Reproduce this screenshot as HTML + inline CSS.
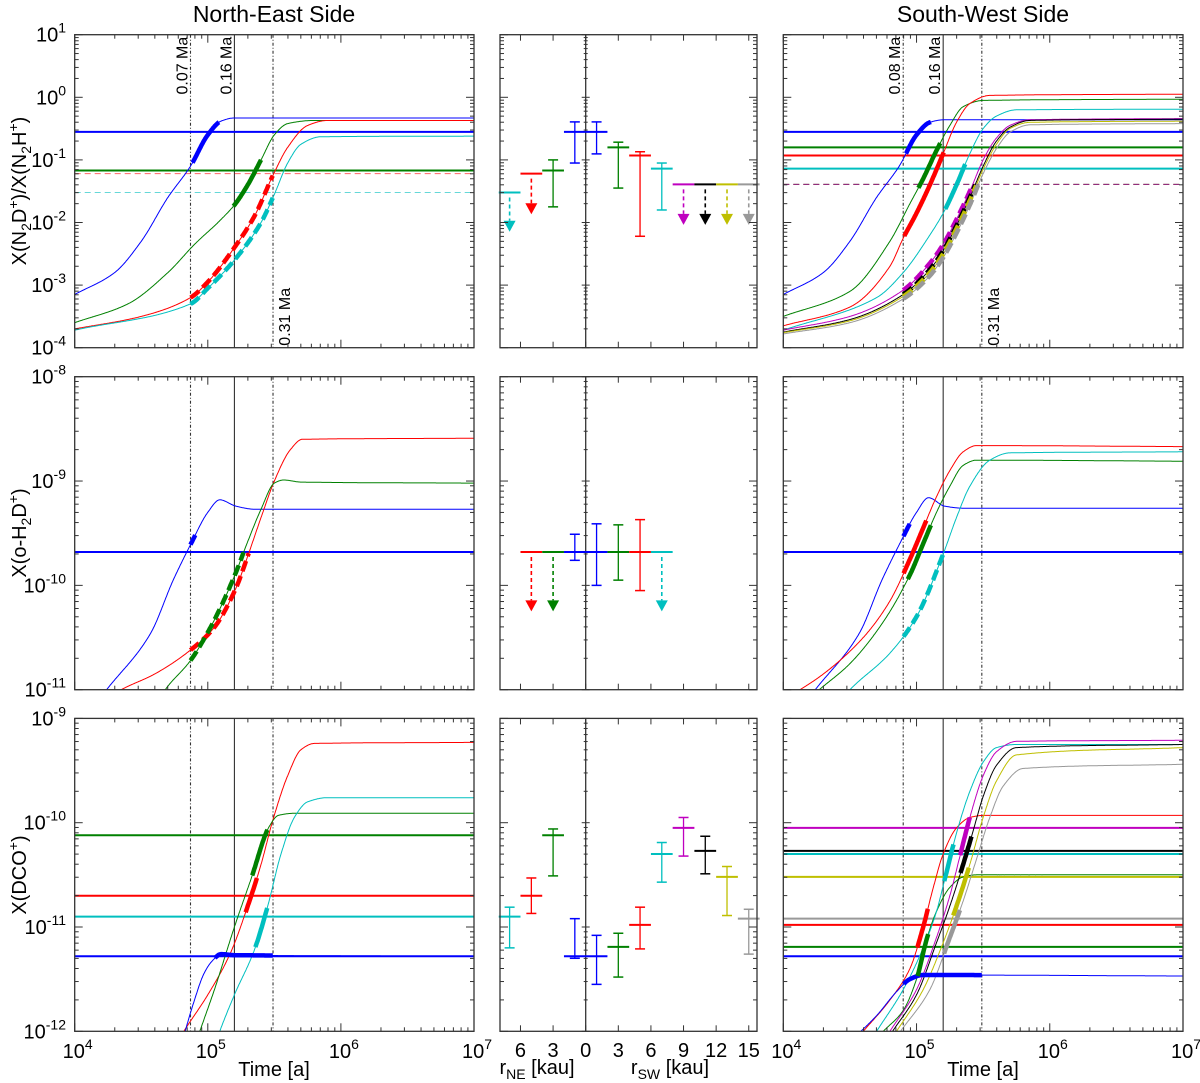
<!DOCTYPE html>
<html><head><meta charset="utf-8"><title>Chemical clock models</title>
<style>
html,body{margin:0;padding:0;background:#fff;}
svg{display:block;font-family:"Liberation Sans",sans-serif;}
</style></head>
<body>
<svg id="fig" width="1200" height="1083" viewBox="0 0 1200 1083"></svg>
<script>
// ---------- DATA (log10 values; time in log10 years; r in kau) ----------
const timeTicks=[4,5,6,7];
const topDecades=[1,0,-1,-2,-3,-4];
const midDecades=[-8,-9,-10,-11];
const botDecades=[-9,-10,-11,-12];
const kauTicksNE=[6,3,0];
const kauTicksSW=[3,6,9,12,15];
const ageNE=[4.87,5.2,5.49];
const ageSW=[4.9,5.2,5.49];
const ageLabelsNE=['0.07 Ma','0.16 Ma','0.31 Ma'];
const ageLabelsSW=['0.08 Ma','0.16 Ma','0.31 Ma'];

// observation sets
const kauNE=[7,5,3,1];
const keysNE=['c','r','g','b'];
const topNEVal=[-1.52,-1.22,-1.17,-0.553];
const topNEHi=[-1.52,-1.22,-1.0,-0.393];
const topNELo=[-2.1,-1.82,-1.75,-1.05];
const topNEUL=[1,1,0,0];

const kauMidNE=[5,3,1];
const keysMidNE=['r','g','b'];
const midNEVal=[-9.68,-9.68,-9.68];
const midNEHi=[-9.68,-9.68,-9.51];
const midNELo=[-10.22,-10.22,-9.76];
const midNEUL=[1,1,0];

const botNEVal=[-10.9,-10.70,-10.12,-11.28];
const botNEHi=[-10.81,-10.53,-10.06,-10.92];
const botNELo=[-11.20,-10.87,-10.51,-11.30];
const botNEUL=[0,0,0,0];

const kauSW=[1,3,5,7,9,11,13,15];
const keysSW=['b','g','r','c','m','k','y','gr'];
const topSWVal=[-0.553,-0.80,-0.93,-1.14,-1.39,-1.39,-1.39,-1.39];
const topSWHi=[-0.393,-0.717,-0.87,-1.05,-1.39,-1.39,-1.39,-1.39];
const topSWLo=[-0.904,-1.45,-2.22,-1.80,-1.99,-1.99,-1.99,-1.99];
const topSWUL=[0,0,0,0,1,1,1,1];

const kauMidSW=[1,3,5,7];
const keysMidSW=['b','g','r','c'];
const midSWVal=[-9.68,-9.68,-9.68,-9.68];
const midSWHi=[-9.41,-9.42,-9.37,-9.68];
const midSWLo=[-10.0,-9.95,-10.05,-10.22];
const midSWUL=[0,0,0,1];

const botSWVal=[-11.28,-11.19,-10.98,-10.30,-10.05,-10.27,-10.52,-10.92];
const botSWHi=[-11.08,-11.06,-10.81,-10.19,-9.95,-10.13,-10.42,-10.83];
const botSWLo=[-11.55,-11.48,-11.21,-10.57,-10.32,-10.49,-10.89,-11.26];
const botSWUL=[0,0,0,0,0,0,0,0];

// model curves [log t, log X]
const curvesTopNE={
 b:[[4,-3.15],[4.3,-2.8],[4.5,-2.3],[4.7,-1.6],[4.87,-1.1],[5.0,-0.6],[5.1,-0.38],[5.2,-0.33],[7,-0.33]],
 g:[[4,-3.6],[4.4,-3.3],[4.7,-2.8],[4.9,-2.35],[5.1,-1.95],[5.2,-1.72],[5.3,-1.4],[5.4,-1.0],[5.5,-0.6],[5.6,-0.42],[5.8,-0.37],[7,-0.37]],
 r:[[4,-3.7],[4.5,-3.5],[4.87,-3.2],[5.0,-2.95],[5.2,-2.4],[5.35,-1.9],[5.5,-1.2],[5.6,-0.8],[5.75,-0.45],[5.9,-0.37],[7,-0.37]],
 c:[[4,-3.72],[4.87,-3.3],[5.0,-3.05],[5.2,-2.6],[5.4,-2.0],[5.5,-1.55],[5.6,-1.05],[5.7,-0.75],[5.85,-0.63],[7,-0.62]]
};
const curvesMidNE={
 b:[[4.0,-11.4],[4.24,-11],[4.57,-10.46],[4.74,-9.95],[4.87,-9.61],[5.0,-9.3],[5.09,-9.18],[5.21,-9.24],[5.35,-9.27],[7,-9.27]],
 r:[[4.0,-11.3],[4.35,-11],[4.6,-10.85],[4.87,-10.62],[5.05,-10.4],[5.21,-10.03],[5.3,-9.72],[5.4,-9.35],[5.5,-9.0],[5.62,-8.7],[5.71,-8.6],[7,-8.59]],
 g:[[4.5,-11.4],[4.68,-11],[4.87,-10.72],[5.0,-10.45],[5.1,-10.2],[5.21,-9.88],[5.3,-9.58],[5.4,-9.27],[5.5,-9.02],[5.57,-8.99],[5.7,-9.01],[7,-9.02]]
};
const curvesBotNE={
 r:[[4.75,-12.15],[4.82,-12],[5.0,-11.65],[5.17,-11.25],[5.3,-10.8],[5.4,-10.4],[5.49,-9.97],[5.6,-9.55],[5.7,-9.3],[5.8,-9.24],[7,-9.23]],
 g:[[4.9,-12.15],[4.94,-12],[5.05,-11.6],[5.2,-11.0],[5.33,-10.52],[5.46,-10.04],[5.53,-9.93],[5.65,-9.91],[7,-9.91]],
 c:[[5.05,-12.15],[5.09,-12],[5.2,-11.65],[5.35,-11.22],[5.45,-10.8],[5.55,-10.3],[5.65,-9.95],[5.75,-9.8],[5.9,-9.76],[7,-9.76]],
 b:[[4.75,-12.4],[4.83,-12],[4.9,-11.7],[4.97,-11.45],[5.03,-11.33],[5.1,-11.26],[5.2,-11.27],[7,-11.28]]
};
const curvesTopSW={
 b:[[4,-3.15],[4.3,-2.8],[4.5,-2.3],[4.7,-1.6],[4.87,-1.1],[5.0,-0.6],[5.1,-0.4],[5.2,-0.36],[7,-0.36]],
 g:[[4,-3.5],[4.5,-3.1],[4.8,-2.3],[4.95,-1.7],[5.05,-1.3],[5.15,-0.85],[5.25,-0.45],[5.35,-0.15],[5.5,-0.05],[7,-0.03]],
 r:[[4,-3.65],[4.5,-3.35],[4.8,-2.7],[4.9,-2.25],[5.0,-1.85],[5.1,-1.4],[5.2,-0.9],[5.3,-0.4],[5.4,-0.1],[5.55,0.03],[7,0.05]],
 c:[[4,-3.72],[4.7,-3.2],[4.9,-2.8],[5.1,-2.2],[5.2,-1.85],[5.3,-1.4],[5.4,-0.9],[5.5,-0.5],[5.6,-0.3],[5.75,-0.2],[7,-0.19]],
 m:[[4,-3.72],[4.5,-3.5],[4.9,-3.08],[5.1,-2.65],[5.2,-2.35],[5.3,-1.95],[5.4,-1.5],[5.5,-1.0],[5.6,-0.65],[5.7,-0.45],[5.85,-0.36],[7,-0.34]],
 k:[[4,-3.75],[4.5,-3.55],[4.9,-3.15],[5.1,-2.75],[5.2,-2.45],[5.3,-2.05],[5.4,-1.6],[5.5,-1.1],[5.6,-0.7],[5.7,-0.48],[5.85,-0.37],[7,-0.35]],
 y:[[4,-3.76],[4.5,-3.57],[4.9,-3.18],[5.1,-2.8],[5.2,-2.5],[5.3,-2.1],[5.4,-1.65],[5.5,-1.15],[5.6,-0.75],[5.7,-0.5],[5.85,-0.4],[7,-0.38]],
 gr:[[4,-3.78],[4.5,-3.6],[4.9,-3.22],[5.1,-2.85],[5.2,-2.56],[5.3,-2.17],[5.4,-1.72],[5.5,-1.22],[5.6,-0.82],[5.7,-0.56],[5.85,-0.44],[7,-0.42]]
};
const curvesMidSW={
 b:[[4.0,-11.4],[4.24,-11],[4.57,-10.46],[4.74,-9.95],[4.87,-9.61],[5.0,-9.3],[5.09,-9.16],[5.21,-9.24],[5.35,-9.26],[7,-9.26]],
 r:[[4.0,-11.1],[4.3,-10.85],[4.6,-10.5],[4.8,-10.15],[4.95,-9.75],[5.05,-9.45],[5.15,-9.15],[5.25,-8.9],[5.35,-8.72],[5.45,-8.66],[7,-8.67]],
 g:[[4.0,-11.3],[4.27,-11],[4.5,-10.75],[4.75,-10.35],[4.95,-9.9],[5.05,-9.6],[5.15,-9.3],[5.25,-9.05],[5.35,-8.85],[5.45,-8.8],[7,-8.81]],
 c:[[4.3,-11.3],[4.5,-11],[4.8,-10.65],[5.0,-10.3],[5.2,-9.7],[5.3,-9.35],[5.4,-9.05],[5.55,-8.8],[5.7,-8.73],[7,-8.72]]
};
const curvesBotSW={
 r:[[4.6,-12],[4.8,-11.7],[4.95,-11.4],[5.05,-11.0],[5.12,-10.65],[5.2,-10.3],[5.3,-10.05],[5.4,-9.95],[5.5,-9.93],[7,-9.93]],
 g:[[4.75,-12],[4.9,-11.8],[5.0,-11.5],[5.08,-11.1],[5.15,-10.85],[5.25,-10.62],[5.35,-10.52],[5.45,-10.5],[7,-10.5]],
 b:[[4.5,-12.1],[4.7,-11.85],[4.85,-11.62],[4.95,-11.5],[5.05,-11.46],[7,-11.47]],
 c:[[4.7,-12],[4.9,-11.6],[5.05,-11.2],[5.15,-10.85],[5.22,-10.5],[5.3,-10.1],[5.4,-9.7],[5.5,-9.42],[5.6,-9.28],[5.75,-9.25],[7,-9.25]],
 m:[[4.8,-12],[5.0,-11.6],[5.15,-11.1],[5.25,-10.7],[5.32,-10.35],[5.4,-9.95],[5.5,-9.55],[5.6,-9.32],[5.75,-9.22],[7,-9.21]],
 k:[[4.82,-12],[5.0,-11.65],[5.15,-11.15],[5.25,-10.8],[5.35,-10.4],[5.42,-10.1],[5.5,-9.75],[5.6,-9.45],[5.75,-9.28],[7,-9.25]],
 y:[[4.85,-12],[5.05,-11.6],[5.2,-11.15],[5.3,-10.8],[5.4,-10.4],[5.5,-9.95],[5.6,-9.6],[5.75,-9.35],[7,-9.28]],
 gr:[[4.88,-12],[5.1,-11.6],[5.25,-11.1],[5.35,-10.75],[5.45,-10.35],[5.55,-9.95],[5.65,-9.65],[5.8,-9.48],[7,-9.44]]
};

// ---------- RENDERING ----------
const COL={b:'#0000ff',g:'#008000',r:'#ff0000',c:'#00bfbf',m:'#bf00bf',k:'#000000',y:'#bfbf00',gr:'#999999'};
const CNAME={b:'blue',g:'green',r:'red',c:'cyan',m:'magenta',k:'black',y:'yellow',gr:'grey'};
const NS='http://www.w3.org/2000/svg';
const svg=document.getElementById('fig');
function mk(tag,attrs,parent){const e=document.createElementNS(NS,tag);for(const k in attrs)e.setAttribute(k,attrs[k]);(parent||svg).appendChild(e);return e;}

const L={x0:74.7,x1:474},M={x0:500,x1:757,c:585.7,s:10.87},R={x0:783.3,x1:1183};
const ROWS={top:{y0:34.7,y1:347.7,hi:1,lo:-4},mid:{y0:376.7,y1:689.7,hi:-8,lo:-11},bot:{y0:718.4,y1:1031.3,hi:-9,lo:-12}};
function sx(col,t){return col.x0+(t-4)/3*(col.x1-col.x0);}
function sy(row,v){return row.y0+(row.hi-v)/(row.hi-row.lo)*(row.y1-row.y0);}
function kx(side,k){return M.c+side*k*M.s;}

// monotone cubic (PCHIP) interpolation, sampled densely in t
function dense(pts){
  const n=pts.length,xs=pts.map(p=>p[0]),ys=pts.map(p=>p[1]);
  const h=[],d=[];
  for(let i=0;i<n-1;i++){h.push(xs[i+1]-xs[i]);d.push((ys[i+1]-ys[i])/h[i]);}
  const m=new Array(n).fill(0);
  m[0]=d[0];m[n-1]=d[n-2];
  for(let i=1;i<n-1;i++){
    if(d[i-1]*d[i]<=0)m[i]=0;
    else{const w1=2*h[i]+h[i-1],w2=h[i]+2*h[i-1];m[i]=(w1+w2)/(w1/d[i-1]+w2/d[i]);}
  }
  const out=[];
  for(let i=0;i<n-1;i++){
    const steps=Math.max(2,Math.ceil(h[i]/0.004));
    for(let j=0;j<steps;j++){
      const s=j/steps,s2=s*s,s3=s2*s;
      const v=(2*s3-3*s2+1)*ys[i]+(s3-2*s2+s)*h[i]*m[i]+(-2*s3+3*s2)*ys[i+1]+(s3-s2)*h[i]*m[i+1];
      out.push([xs[i]+s*h[i],v]);
    }
  }
  out.push(pts[n-1]);
  return out;
}
function ptsStr(col,row,d){let s='';let last=null;d.forEach((p,i)=>{const x=sx(col,p[0]),y=sy(row,p[1]);if(last&&Math.abs(x-last[0])<0.5&&Math.abs(y-last[1])<0.5&&i<d.length-1)return;last=[x,y];s+=x.toFixed(1)+','+y.toFixed(1)+' ';});return s;}

let clipN=0;
function sidePanel(col,row,name,curves,keys,vals,his,los,uls,ages,ageLabels,showAges){
  const g=mk('g',{});
  
  
  const id='clip'+(clipN++);
  const cp=mk('clipPath',{id:id},g);
  mk('rect',{x:col.x0,y:row.y0,width:col.x1-col.x0,height:row.y1-row.y0},cp);
  const inner=mk('g',{'clip-path':'url(#'+id+')'},g);
  ages.forEach((a,i)=>{
    const x=sx(col,a);
    const ln=mk('line',{x1:x,x2:x,y1:row.y0,y2:row.y1,stroke:'#333','stroke-width':1.1,'stroke-dasharray':i===1?'none':'3,2,1,2'},inner);
    
    
  });
  // observed horizontal lines: limits (reverse), then detections, blue last
  const idx=[...keys.keys()];
  const order=idx.filter(i=>uls[i]).reverse()
    .concat(idx.filter(i=>!uls[i]&&keys[i]!=='b'))
    .concat(idx.filter(i=>!uls[i]&&keys[i]==='b'));
  order.forEach(i=>{
    const y=sy(row,vals[i]);
    const ln=mk('line',{x1:col.x0,x2:col.x1,y1:y,y2:y,stroke:COL[keys[i]],'stroke-width':uls[i]?1:2,'stroke-dasharray':uls[i]?'6,4':'none',opacity:uls[i]?0.6:1},inner);
    
    
  });
  for(const k in curves){
    const d=dense(curves[k]);
    const pl=mk('polyline',{points:ptsStr(col,row,d),fill:'none',stroke:COL[k],'stroke-width':1},inner);
    
    
  }
  keys.forEach((k,i)=>{
    if(!curves[k])return;
    const d=dense(curves[k]);
    const lo=uls[i]?-99:los[i],hi=uls[i]?vals[i]:his[i];
    let seg=[];const segs=[];
    d.forEach(p=>{
      if(p[0]>=ages[0]&&p[0]<=ages[2]&&p[1]>=lo&&p[1]<=hi){seg.push(p);}
      else{if(seg.length>1)segs.push(seg);seg=[];}
    });
    if(seg.length>1)segs.push(seg);
    segs.forEach(s=>{
      const pl=mk('polyline',{points:ptsStr(col,row,s),fill:'none',stroke:COL[k],'stroke-width':4.5,'stroke-dasharray':uls[i]?'11,5':'none'},inner);
      
      
    });
  });
  if(showAges){
    ages.forEach((a,i)=>{
      const x=sx(col,a);
      const below=(i===2);
      const bx=below?x+17:x-3;
      const by=below?row.y1-2:row.y0+2;
      const t=mk('text',{x:bx,y:by,transform:'rotate(-90 '+bx+' '+by+')','font-size':16,'text-anchor':below?'start':'end',fill:'#000'},g);
      t.textContent=ageLabels[i];
      
      
    });
  }
  frame(g,col.x0,col.x1,row.y0,row.y1);
  for(let d=row.lo;d<=row.hi;d++){
    tickY(g,col,row,d,8);
    if(d<row.hi)for(let m=2;m<=9;m++)tickY(g,col,row,d+Math.log10(m),4);
  }
  for(let d=4;d<=7;d++){
    tickX(g,sx(col,d),row,8);
    if(d<7)for(let m=2;m<=9;m++)tickX(g,sx(col,d+Math.log10(m)),row,4);
  }
}
function frame(g,x0,x1,y0,y1){
  const r=mk('rect',{x:x0,y:y0,width:x1-x0,height:y1-y0,fill:'none',stroke:'#333','stroke-width':1.3},g);
  
  
}
function tickY(g,col,row,v,len){
  const y=sy(row,v);
  mk('line',{x1:col.x0,x2:col.x0+len,y1:y,y2:y,stroke:'#333','stroke-width':1},g);
  mk('line',{x1:col.x1,x2:col.x1-len,y1:y,y2:y,stroke:'#333','stroke-width':1},g);
}
function tickX(g,x,row,len){
  mk('line',{x1:x,x2:x,y1:row.y1,y2:row.y1-len,stroke:'#333','stroke-width':1},g);
  mk('line',{x1:x,x2:x,y1:row.y0,y2:row.y0+len,stroke:'#333','stroke-width':1},g);
}

function midPanel(row,name,sets){
  const g=mk('g',{});
  
  
  const cl=mk('line',{x1:M.c,x2:M.c,y1:row.y0,y2:row.y1,stroke:'#333','stroke-width':1.3},g);
  
  
  sets.forEach(s=>{
    s.kau.forEach((k,i)=>{
      const x=kx(s.side,k),c=COL[s.keys[i]],y=sy(row,s.val[i]);
      const eg=mk('g',{},g);
      if(s.ul[i]){
        
        
        mk('line',{x1:x-M.s,x2:x+M.s,y1:y,y2:y,stroke:c,'stroke-width':2},eg);
        const ya=sy(row,s.lo[i]);
        mk('line',{x1:x,x2:x,y1:y+5,y2:ya-8,stroke:c,'stroke-width':1.6,'stroke-dasharray':'4,3'},eg);
        mk('polygon',{points:(x-6)+','+(ya-8)+' '+(x+6)+','+(ya-8)+' '+x+','+(ya+3),fill:c},eg);
      }else{
        
        
        const yt=sy(row,s.hi[i]),yb=sy(row,s.lo[i]);
        mk('line',{x1:x-M.s,x2:x+M.s,y1:y,y2:y,stroke:c,'stroke-width':2},eg);
        mk('line',{x1:x,x2:x,y1:yt,y2:yb,stroke:c,'stroke-width':1.3},eg);
        mk('line',{x1:x-5,x2:x+5,y1:yt,y2:yt,stroke:c,'stroke-width':1.5},eg);
        mk('line',{x1:x-5,x2:x+5,y1:yb,y2:yb,stroke:c,'stroke-width':1.5},eg);
      }
    });
  });
  frame(g,M.x0,M.x1,row.y0,row.y1);
  for(let d=row.lo;d<=row.hi;d++){
    const mm=[[d,8]];
    if(d<row.hi)for(let m=2;m<=9;m++)mm.push([d+Math.log10(m),4]);
    mm.forEach(([v,len])=>{
      const y=sy(row,v);
      mk('line',{x1:M.x0,x2:M.x0+len,y1:y,y2:y,stroke:'#333','stroke-width':1},g);
      mk('line',{x1:M.x1,x2:M.x1-len,y1:y,y2:y,stroke:'#333','stroke-width':1},g);
      mk('line',{x1:M.c-len/2,x2:M.c+len/2,y1:y,y2:y,stroke:'#333','stroke-width':1},g);
    });
  }
  kauTicksNE.forEach(k=>tickX(g,kx(-1,k),row,6));
  kauTicksSW.forEach(k=>tickX(g,kx(1,k),row,6));
}

function decLabel(x,y,d,anchor,name){
  const t=mk('text',{x:x,y:y,'font-size':20,'text-anchor':anchor,fill:'#000'});
  
  
  const a=mk('tspan',{},t);a.textContent='10';
  const b=mk('tspan',{dy:-9,'font-size':14},t);b.textContent=String(d);
}

sidePanel(L,ROWS.top,'ne-n2d-ratio-panel',curvesTopNE,keysNE,topNEVal,topNEHi,topNELo,topNEUL,ageNE,ageLabelsNE,true);
sidePanel(L,ROWS.mid,'ne-oh2d-panel',curvesMidNE,keysMidNE,midNEVal,midNEHi,midNELo,midNEUL,ageNE,ageLabelsNE,false);
sidePanel(L,ROWS.bot,'ne-dco-panel',curvesBotNE,keysNE,botNEVal,botNEHi,botNELo,botNEUL,ageNE,ageLabelsNE,false);
sidePanel(R,ROWS.top,'sw-n2d-ratio-panel',curvesTopSW,keysSW,topSWVal,topSWHi,topSWLo,topSWUL,ageSW,ageLabelsSW,true);
sidePanel(R,ROWS.mid,'sw-oh2d-panel',curvesMidSW,keysMidSW,midSWVal,midSWHi,midSWLo,midSWUL,ageSW,ageLabelsSW,false);
sidePanel(R,ROWS.bot,'sw-dco-panel',curvesBotSW,keysSW,botSWVal,botSWHi,botSWLo,botSWUL,ageSW,ageLabelsSW,false);

midPanel(ROWS.top,'observed-n2d-ratio-panel',[
 {side:-1,kau:kauNE,keys:keysNE,val:topNEVal,hi:topNEHi,lo:topNELo,ul:topNEUL},
 {side:1,kau:kauSW,keys:keysSW,val:topSWVal,hi:topSWHi,lo:topSWLo,ul:topSWUL}]);
midPanel(ROWS.mid,'observed-oh2d-panel',[
 {side:-1,kau:kauMidNE,keys:keysMidNE,val:midNEVal,hi:midNEHi,lo:midNELo,ul:midNEUL},
 {side:1,kau:kauMidSW,keys:keysMidSW,val:midSWVal,hi:midSWHi,lo:midSWLo,ul:midSWUL}]);
midPanel(ROWS.bot,'observed-dco-panel',[
 {side:-1,kau:kauNE,keys:keysNE,val:botNEVal,hi:botNEHi,lo:botNELo,ul:botNEUL},
 {side:1,kau:kauSW,keys:keysSW,val:botSWVal,hi:botSWHi,lo:botSWLo,ul:botSWUL}]);

topDecades.forEach(d=>decLabel(66,sy(ROWS.top,d)+7,d,'end','y-tick-label'));
midDecades.forEach(d=>decLabel(66,sy(ROWS.mid,d)+7,d,'end','y-tick-label'));
botDecades.forEach(d=>decLabel(66,sy(ROWS.bot,d)+7,d,'end','y-tick-label'));
timeTicks.forEach(t=>{decLabel(sx(L,t)+3,1058,t,'middle','x-tick-label');decLabel(sx(R,t)+3,1058,t,'middle','x-tick-label');});
kauTicksNE.forEach(k=>{const t=mk('text',{x:kx(-1,k),y:1057,'font-size':20,'text-anchor':'middle'});t.textContent=k;
 });
kauTicksSW.forEach(k=>{const t=mk('text',{x:kx(1,k),y:1057,'font-size':20,'text-anchor':'middle'});t.textContent=k;
 });

// titles and axis labels
function T(x,y,size,anchor,parts,name,rot){
  const t=mk('text',{x:x,y:y,'font-size':size,'text-anchor':anchor});
  if(rot)t.setAttribute('transform','rotate(-90 '+x+' '+y+')');
  
  
  let shift=0;
  parts.forEach(p=>{
    const target=p[1]==='sub'?5:(p[1]==='sup'?-8:0);
    const s=mk('tspan',{dy:target-shift},t);
    if(p[1])s.setAttribute('font-size',Math.round(size*0.7));
    shift=target;
    s.textContent=p[0];
  });
}
T(274,22,23,'middle',[['North-East Side']],'north-east-title');
T(983,22,23,'middle',[['South-West Side']],'south-west-title');
T(274,1076,20,'middle',[['Time [a]']],'x-axis-title-ne');
T(983,1076,20,'middle',[['Time [a]']],'x-axis-title-sw');
T(537,1074,20,'middle',[['r'],['NE','sub'],[' [kau]']],'r-ne-axis-title');
T(670,1074,20,'middle',[['r'],['SW','sub'],[' [kau]']],'r-sw-axis-title');
T(26,191,20,'middle',[['X(N'],['2','sub'],['D'],['+','sup'],[')/X(N'],['2','sub'],['H'],['+','sup'],[')']],'y-axis-title-n2d-ratio',true);
T(26,533,20,'middle',[['X(o-H'],['2','sub'],['D'],['+','sup'],[')']],'y-axis-title-oh2d',true);
T(26,875,20,'middle',[['X(DCO'],['+','sup'],[')']],'y-axis-title-dco',true);
</script>
</body></html>
